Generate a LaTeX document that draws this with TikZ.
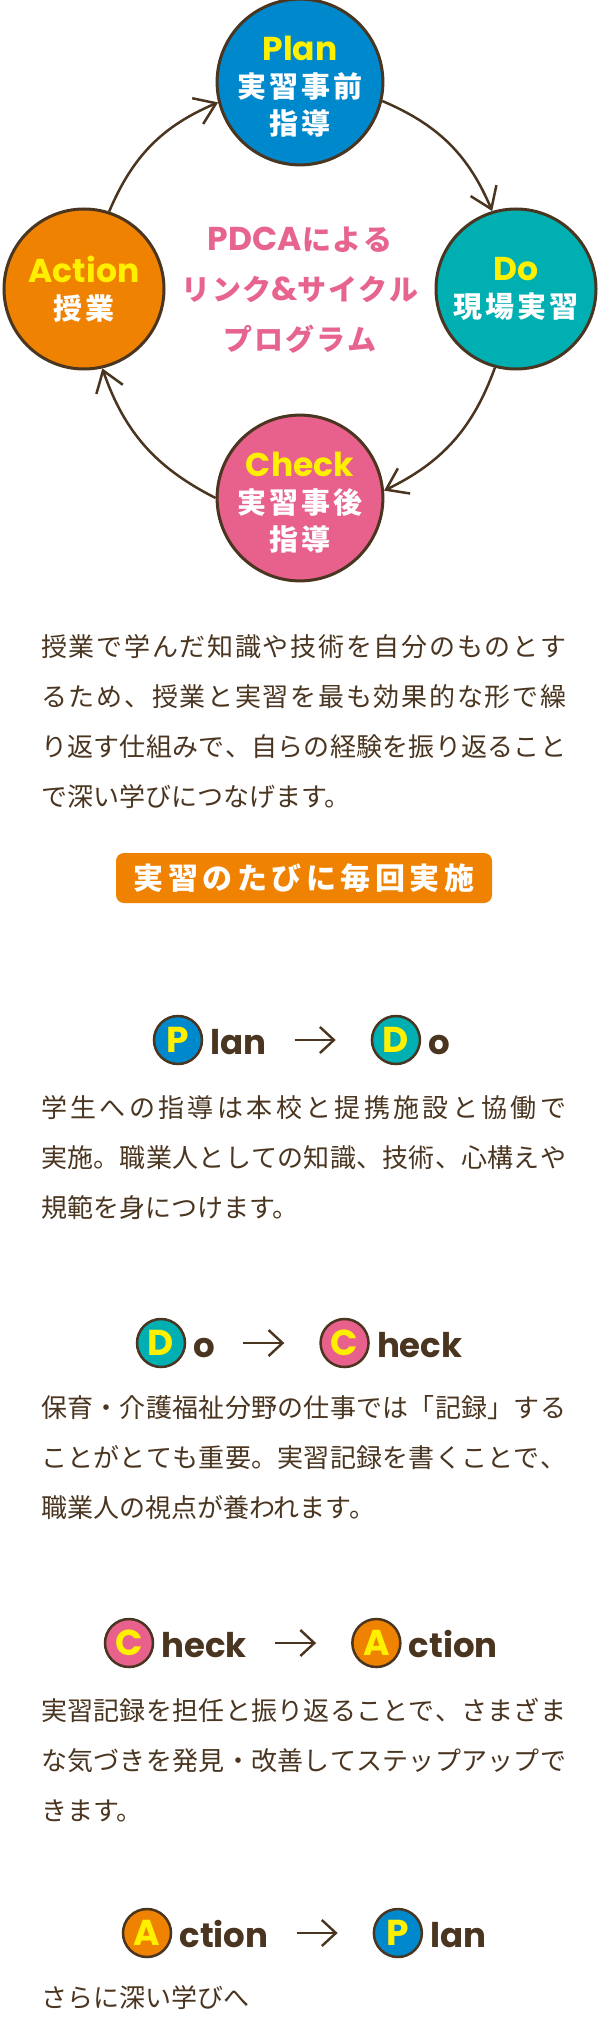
\documentclass[tikz,border=0pt]{standalone}
\usepackage{fontspec}
\setmainfont{Noto Sans CJK JP}
\newfontfamily\lat{Poppins}
\usetikzlibrary{positioning}
\usetikzlibrary{arrows.meta}
\definecolor{ink}{HTML}{4A3520}
\definecolor{planblue}{HTML}{0088CC}
\definecolor{doteal}{HTML}{00AFB1}
\definecolor{checkpink}{HTML}{E8608C}
\definecolor{actorange}{HTML}{EF8200}
\definecolor{hilite}{HTML}{FFF000}
\definecolor{hubpink}{HTML}{E7648E}
% spread the characters of a run with a given skip between them
\newcommand{\tracked}[2]{\def\charskip{#1}\trackfirst#2\relax}
\def\trackfirst#1{#1\trackrest}
\def\trackrest#1{\ifx\relax#1\else\hskip\charskip\relax#1\expandafter\trackrest\fi}
\newcommand{\jline}[1]{\hbox to 525pt{\tracked{0pt plus 1fil}{#1}}}
\tikzset{x=1pt, y=1pt,
    phase/.style={
        circle, draw=ink, line width=3pt,
        minimum size=160pt, inner sep=0pt,
        align=center, text=white,
        font={\bfseries\fontsize{29}{37}\selectfont}},
    hub/.style={
        align=center, text=hubpink, inner sep=0pt,
        font={\bfseries\fontsize{29}{50}\selectfont}},
    cyc/.style={
        draw=ink, line width=2.5pt,
        -{Straight Barb[length=20pt,width=28pt]}},
    tag/.style={
        rounded corners=8pt, fill=actorange, text=white,
        minimum width=376pt, minimum height=50pt, inner sep=0pt,
        font={\bfseries\fontsize{30}{30}\selectfont}},
    para/.style={
        text=ink, inner sep=0pt, align=left, anchor=west,
        font={\fontsize{26}{50}\selectfont}},
    badge/.style={
        circle, draw=ink, line width=2.5pt,
        minimum size=48pt, inner sep=0pt, text=hilite,
        font={\lat\bfseries\fontsize{36}{36}\selectfont}},
    word/.style={
        text=ink, inner sep=0pt, text height=28pt, text depth=0pt,
        font={\lat\bfseries\fontsize{34}{34}\selectfont}},
    flow/.style={
        draw=ink, line width=2.4pt,
        -{Straight Barb[length=14pt,width=26pt]},
        shorten <=28pt, shorten >=35pt}}
\newcommand{\key}[1]{{\lat\fontsize{33}{37}\selectfont\color{hilite}#1}}
\newcommand{\hubword}[1]{{\lat\fontsize{33}{50}\selectfont#1}}

\begin{document}
\begin{tikzpicture}
    \useasboundingbox (0,0) rectangle (600,-2025);
    \fill[white] (0,0) rectangle (600,-2025);
    % PDCA cycle
    \node[phase, fill=planblue] (plan) at (300,-82) {\key{Plan}\rule{0pt}{33pt}\\\tracked{3pt}{実習事前}\\\tracked{3pt}{指導}};
    \node[phase, fill=doteal] (do) at (516,-289) {\key{Do}\\\tracked{3pt}{現場実習}};
    \node[phase, fill=checkpink] (check) at (300,-498) {\key{Check}\rule{0pt}{33pt}\\\tracked{3pt}{実習事後}\\\tracked{3pt}{指導}};
    \node[phase, fill=actorange] (action) at (84,-289) {\key{Action}\\\tracked{3pt}{授業}};
    \node[hub] (hub) at (300,-290) {\hubword{PDCA}\tracked{1.5pt}{による}\\\tracked{1.5pt}{リンク}\hubword{\&}\tracked{1.5pt}{サイクル}\\\tracked{2pt}{プログラム}};
    \draw[cyc] (action.72) to[bend left=22] (plan.194);
    \draw[cyc] (plan.-13) to[bend left=22] (do.107);
    \draw[cyc] (do.-105) to[bend left=22] (check.5);
    \draw[cyc] (check.180) to[bend left=22] (action.-77);

    \node[para] (intro) at (41,-722) {\jline{授業で学んだ知識や技術を自分のものとす}\\\jline{るため、授業と実習を最も効果的な形で繰}\\\jline{り返す仕組みで、自らの経験を振り返ること}\\で深い学びにつなげます。};
    \node[tag] (every) at (304,-878) {\tracked{4.5pt}{実習のたびに毎回実施}};

    % Plan -> Do
    \node[badge, fill=planblue] (p1) at (178,-1040) {P};
    \node[word, right=7pt of p1] (p1w) {lan};
    \node[badge, fill=doteal, right=104pt of p1w] (d1) {D};
    \node[word, right=7pt of d1] (d1w) {o};
    \draw[flow] (p1w) -- (d1);
    \node[para] (pd) at (41,-1158) {\jline{学生への指導は本校と提携施設と協働で}\\\jline{実施。職業人としての知識、技術、心構えや}\\規範を身につけます。};

    % Do -> Check
    \node[badge, fill=doteal] (d2) at (161,-1343) {D};
    \node[word, right=7pt of d2] (d2w) {o};
    \node[badge, fill=checkpink, right=104pt of d2w] (c2) {C};
    \node[word, right=7pt of c2] (c2w) {heck};
    \draw[flow] (d2w) -- (c2);
    \node[para] (dc) at (41,-1458) {\jline{保育・介護福祉分野の仕事では「記録」する}\\\jline{ことがとても重要。実習記録を書くことで、}\\職業人の視点が養われます。};

    % Check -> Action
    \node[badge, fill=checkpink] (c3) at (129,-1643) {C};
    \node[word, right=7pt of c3] (c3w) {heck};
    \node[badge, fill=actorange, right=104pt of c3w] (a3) {A};
    \node[word, right=7pt of a3] (a3w) {ction};
    \draw[flow] (c3w) -- (a3);
    \node[para] (ca) at (41,-1760) {\jline{実習記録を担任と振り返ることで、さまざま}\\\jline{な気づきを発見・改善してステップアップで}\\きます。};

    % Action -> Plan
    \node[badge, fill=actorange] (a4) at (147,-1933) {A};
    \node[word, right=7pt of a4] (a4w) {ction};
    \node[badge, fill=planblue, right=104pt of a4w] (p4) {P};
    \node[word, right=7pt of p4] (p4w) {lan};
    \draw[flow] (a4w) -- (p4);
    \node[para] (ap) at (41,-1998) {さらに深い学びへ};
\end{tikzpicture}
\end{document}
